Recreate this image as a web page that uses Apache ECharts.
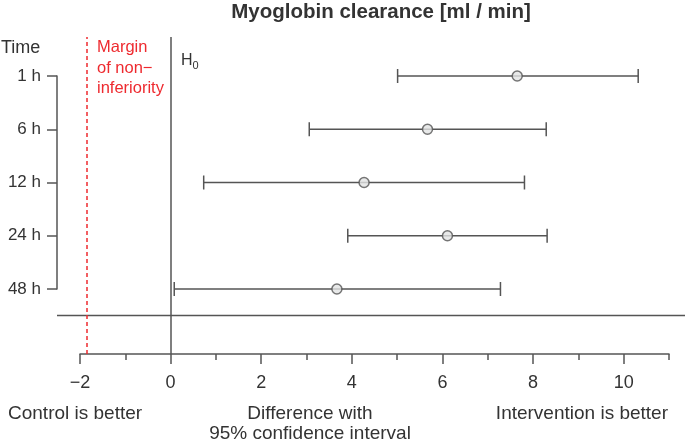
<!DOCTYPE html>
<html><head><meta charset="utf-8">
<script src="https://cdn.jsdelivr.net/npm/echarts@6/dist/echarts.min.js"></script>
<style>html,body{margin:0;padding:0;background:#fff}#c{width:685px;height:447px}</style>
</head><body><div id="c"></div>
<script>
const categories = ['1 h', '6 h', '12 h', '24 h', '48 h'];
const meanDiff = [7.65, 5.67, 4.27, 6.11, 3.67];
const lowerCI = [5.01, 3.06, 0.73, 3.91, 0.08];
const upperCI = [10.32, 8.29, 7.81, 8.31, 7.28];
const majorTicks = [-2, 0, 2, 4, 6, 8, 10];
const minorTicks = [-1, 1, 3, 5, 7, 9, 11];
const margin = -1.85;
const H0 = 0;

const FONT = 'Liberation Sans, Arial, sans-serif';
const TXT = '#333';
const LINE = '#555';
const RED = '#ee2a2f';

const chart = echarts.init(document.getElementById('c'));
const errData = categories.map((c, i) => [lowerCI[i], upperCI[i], i]);
const meanData = categories.map((c, i) => [meanDiff[i], i]);

chart.setOption({
  animation: false,
  grid: [
    {left: 80, right: 16, top: 76, bottom: 158},
    {left: 80, right: 16, top: 37, bottom: 93}
  ],
  xAxis: [
    {gridIndex: 0, type: 'value', min: -2, max: 11, interval: 1, show: false},
    {gridIndex: 1, type: 'value', min: -2, max: 11, interval: 1, position: 'bottom',
      axisLine: {show: true, onZero: false, lineStyle: {color: LINE, width: 1.5}},
      axisTick: {show: true, length: 10, customValues: majorTicks, lineStyle: {color: LINE, width: 1.5}},
      axisLabel: {show: true, customValues: majorTicks, margin: 20, color: TXT, fontSize: 18, fontFamily: FONT,
        formatter: v => (v < 0 ? '\u2212' + Math.abs(v) : String(v))},
      splitLine: {show: false}},
    {gridIndex: 1, type: 'value', min: -2, max: 11, interval: 1, position: 'bottom',
      axisLine: {show: false, onZero: false},
      axisTick: {show: true, length: 6, customValues: minorTicks, lineStyle: {color: LINE, width: 1.5}},
      axisLabel: {show: false}, splitLine: {show: false}}
  ],
  yAxis: [
    {gridIndex: 0, type: 'category', data: categories, inverse: true, boundaryGap: false, offset: 23,
      axisLine: {show: true, onZero: false, lineStyle: {color: LINE, width: 1.5}},
      axisTick: {show: true, length: 10, lineStyle: {color: LINE, width: 1.5}},
      axisLabel: {margin: 16, color: TXT, fontSize: 17, fontFamily: FONT},
      splitLine: {show: false}},
    {gridIndex: 1, type: 'value', min: 0, max: 1, show: false}
  ],
  series: [
    {
      type: 'custom', xAxisIndex: 0, yAxisIndex: 0, data: errData,
      renderItem: function (params, api) {
        const lo = api.coord([api.value(0), api.value(2)]);
        const hi = api.coord([api.value(1), api.value(2)]);
        const h = 7;
        const st = {stroke: LINE, lineWidth: 1.5};
        return {type: 'group', children: [
          {type: 'line', shape: {x1: lo[0], y1: lo[1], x2: hi[0], y2: hi[1]}, style: st},
          {type: 'line', shape: {x1: lo[0], y1: lo[1] - h, x2: lo[0], y2: lo[1] + h}, style: st},
          {type: 'line', shape: {x1: hi[0], y1: hi[1] - h, x2: hi[0], y2: hi[1] + h}, style: st}
        ]};
      }
    },
    {
      type: 'scatter', xAxisIndex: 0, yAxisIndex: 0, data: meanData, symbol: 'circle', symbolSize: 10,
      itemStyle: {color: '#e2e4e4', borderColor: LINE, borderWidth: 1.5}, z: 5
    },
    {
      type: 'scatter', xAxisIndex: 1, yAxisIndex: 1, data: [], silent: true,
      markLine: {
        symbol: 'none', silent: true, label: {show: false},
        data: [
          {xAxis: H0, lineStyle: {color: LINE, width: 1.5, type: 'solid'}},
          {xAxis: margin, lineStyle: {color: RED, width: 1.5, type: [4, 3]}}
        ]
      }
    }
  ],
  graphic: [
    {type: 'line', shape: {x1: 57, y1: 315.5, x2: 685, y2: 315.5}, style: {stroke: LINE, lineWidth: 1.5}},
    {type: 'text', style: {text: 'Myoglobin clearance [ml / min]', x: 381, y: 12, align: 'center', verticalAlign: 'middle', font: 'bold 20.5px ' + FONT, fill: TXT}},
    {type: 'text', style: {text: 'Time', x: 1, y: 48, verticalAlign: 'middle', font: '18px ' + FONT, fill: TXT}},
    {type: 'text', style: {text: 'Margin\nof non\u2212\ninferiority', x: 97, y: 68, verticalAlign: 'middle', lineHeight: 20.5, font: '16.5px ' + FONT, fill: RED}},
    {type: 'text', style: {rich: {a: {fontSize: 16, fontFamily: FONT, fill: TXT}, b: {fontSize: 11, fontFamily: FONT, fill: TXT, padding: [9, 0, 0, 0]}}, text: '{a|H}{b|0}', x: 181, y: 61, verticalAlign: 'middle'}},
    {type: 'text', style: {text: 'Control is better', x: 8, y: 414, verticalAlign: 'middle', font: '19px ' + FONT, fill: TXT}},
    {type: 'text', style: {text: 'Difference with\n95% confidence interval', x: 310, y: 424, align: 'center', verticalAlign: 'middle', lineHeight: 20, font: '19px ' + FONT, fill: TXT}},
    {type: 'text', style: {text: 'Intervention is better', x: 668, y: 414, align: 'right', verticalAlign: 'middle', font: '19px ' + FONT, fill: TXT}}
  ]
});
</script></body></html>
